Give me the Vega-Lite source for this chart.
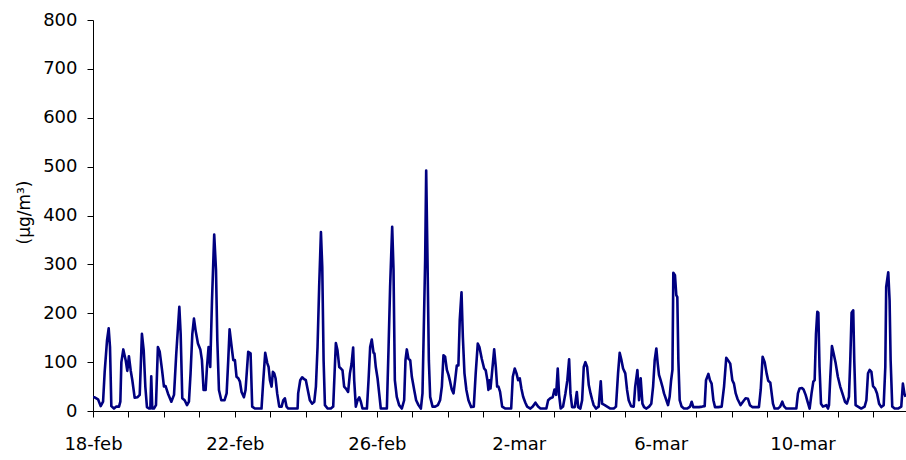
{
"$schema": "https://vega.github.io/schema/vega-lite/v6.json",
"width": 813, "height": 391,
"autosize": {"type": "none"},
"padding": {"left": 93, "top": 20, "right": 0, "bottom": 49},
"background": "white",
"config": {"view": {"stroke": null}, "font": "DejaVu Sans"},
"data": {"values": [
{"hour":0,"conc":28},{"hour":1.1,"conc":28},{"hour":3.4,"conc":24},{"hour":5.2,"conc":10},{"hour":6.8,"conc":19},{"hour":7.9,"conc":80},{"hour":9.5,"conc":145},{"hour":10.6,"conc":169},{"hour":11.5,"conc":131},{"hour":12.4,"conc":10},
{"hour":14.2,"conc":5},{"hour":15.8,"conc":9},{"hour":17.6,"conc":9},{"hour":18.5,"conc":19},{"hour":19.2,"conc":100},{"hour":20.5,"conc":126},{"hour":22.1,"conc":104},{"hour":23.2,"conc":82},{"hour":24.3,"conc":112},{"hour":25.5,"conc":83},
{"hour":26.6,"conc":63},{"hour":28.2,"conc":27},{"hour":30.0,"conc":28},{"hour":31.6,"conc":33},{"hour":33.1,"conc":158},{"hour":34.3,"conc":124},{"hour":35.4,"conc":50},{"hour":36.5,"conc":8},{"hour":37.9,"conc":5},{"hour":38.8,"conc":5},
{"hour":39.4,"conc":71},{"hour":40.1,"conc":5},{"hour":41.2,"conc":5},{"hour":42.6,"conc":12},{"hour":43.9,"conc":131},{"hour":45.1,"conc":122},{"hour":46.7,"conc":84},{"hour":48.0,"conc":50},{"hour":49.1,"conc":51},{"hour":50.7,"conc":36},
{"hour":53.0,"conc":19},{"hour":54.8,"conc":33},{"hour":56.3,"conc":116},{"hour":58.4,"conc":213},{"hour":59.3,"conc":158},{"hour":60.4,"conc":26},{"hour":62.0,"conc":22},{"hour":63.6,"conc":12},{"hour":64.9,"conc":19},{"hour":66.0,"conc":77},
{"hour":67.2,"conc":158},{"hour":68.3,"conc":189},{"hour":69.4,"conc":165},{"hour":71.0,"conc":138},{"hour":72.6,"conc":126},{"hour":73.7,"conc":104},{"hour":74.8,"conc":43},{"hour":76.2,"conc":43},{"hour":77.1,"conc":90},{"hour":78.2,"conc":131},
{"hour":79.3,"conc":90},{"hour":80.5,"conc":226},{"hour":82.0,"conc":361},{"hour":83.2,"conc":289},{"hour":84.1,"conc":145},{"hour":85.2,"conc":43},{"hour":86.8,"conc":22},{"hour":89.0,"conc":22},{"hour":90.4,"conc":36},{"hour":91.5,"conc":104},
{"hour":92.4,"conc":167},{"hour":93.8,"conc":131},{"hour":94.9,"conc":104},{"hour":96.0,"conc":104},{"hour":97.1,"conc":70},{"hour":98.3,"conc":67},{"hour":99.4,"conc":60},{"hour":100.5,"conc":39},{"hour":102.1,"conc":28},{"hour":103.2,"conc":43},
{"hour":105.0,"conc":121},{"hour":106.6,"conc":118},{"hour":107.7,"conc":9},{"hour":109.5,"conc":5},{"hour":111.8,"conc":5},{"hour":114.0,"conc":5},{"hour":115.2,"conc":63},{"hour":116.5,"conc":119},{"hour":117.9,"conc":98},{"hour":118.8,"conc":90},
{"hour":119.7,"conc":63},{"hour":120.8,"conc":50},{"hour":121.7,"conc":80},{"hour":122.6,"conc":77},{"hour":123.5,"conc":67},{"hour":124.6,"conc":36},{"hour":126.0,"conc":9},{"hour":127.6,"conc":9},{"hour":128.7,"conc":22},{"hour":129.8,"conc":26},
{"hour":130.9,"conc":9},{"hour":132.1,"conc":5},{"hour":134.3,"conc":5},{"hour":136.6,"conc":5},{"hour":138.4,"conc":5},{"hour":138.8,"conc":36},{"hour":140.2,"conc":63},{"hour":141.5,"conc":69},{"hour":142.9,"conc":65},{"hour":144.0,"conc":63},
{"hour":145.1,"conc":46},{"hour":146.7,"conc":22},{"hour":148.3,"conc":15},{"hour":149.7,"conc":19},{"hour":150.8,"conc":50},{"hour":151.9,"conc":131},{"hour":153.0,"conc":254},{"hour":154.2,"conc":366},{"hour":155.1,"conc":294},{"hour":156.0,"conc":104},
{"hour":156.9,"conc":12},{"hour":158.7,"conc":5},{"hour":160.9,"conc":5},{"hour":162.5,"conc":9},{"hour":163.6,"conc":90},{"hour":164.3,"conc":139},{"hour":165.4,"conc":124},{"hour":166.6,"conc":90},{"hour":167.7,"conc":87},{"hour":168.8,"conc":83},
{"hour":169.9,"conc":50},{"hour":171.1,"conc":46},{"hour":172.6,"conc":39},{"hour":173.8,"conc":77},{"hour":174.9,"conc":96},{"hour":176.0,"conc":130},{"hour":176.7,"conc":63},{"hour":177.8,"conc":9},{"hour":179.0,"conc":22},{"hour":180.1,"conc":28},
{"hour":181.2,"conc":19},{"hour":182.3,"conc":5},{"hour":185.3,"conc":5},{"hour":186.4,"conc":63},{"hour":187.5,"conc":131},{"hour":188.6,"conc":146},{"hour":189.8,"conc":119},{"hour":190.4,"conc":118},{"hour":191.3,"conc":90},{"hour":192.5,"conc":67},
{"hour":193.6,"conc":36},{"hour":194.7,"conc":5},{"hour":196.5,"conc":5},{"hour":198.8,"conc":5},{"hour":199.9,"conc":124},{"hour":201.0,"conc":254},{"hour":202.4,"conc":377},{"hour":203.3,"conc":289},{"hour":204.2,"conc":63},{"hour":205.5,"conc":29},
{"hour":207.1,"conc":12},{"hour":208.9,"conc":5},{"hour":210.5,"conc":22},{"hour":211.4,"conc":104},{"hour":212.3,"conc":126},{"hour":213.4,"conc":107},{"hour":214.6,"conc":104},{"hour":215.7,"conc":70},{"hour":217.3,"conc":43},{"hour":218.6,"conc":22},
{"hour":220.2,"conc":12},{"hour":221.8,"conc":5},{"hour":222.9,"conc":36},{"hour":223.8,"conc":172},{"hour":224.7,"conc":308},{"hour":225.4,"conc":492},{"hour":226.3,"conc":308},{"hour":227.2,"conc":104},{"hour":228.1,"conc":29},{"hour":229.7,"conc":9},
{"hour":231.5,"conc":9},{"hour":233.3,"conc":12},{"hour":234.8,"conc":22},{"hour":236.0,"conc":50},{"hour":237.1,"conc":114},{"hour":238.2,"conc":111},{"hour":239.4,"conc":84},{"hour":240.5,"conc":74},{"hour":241.6,"conc":60},{"hour":242.7,"conc":44},
{"hour":243.9,"conc":36},{"hour":245.0,"conc":63},{"hour":246.1,"conc":93},{"hour":247.2,"conc":93},{"hour":248.1,"conc":186},{"hour":249.3,"conc":243},{"hour":250.2,"conc":152},{"hour":251.3,"conc":77},{"hour":252.6,"conc":43},{"hour":254.0,"conc":22},
{"hour":255.8,"conc":8},{"hour":257.6,"conc":9},{"hour":258.9,"conc":77},{"hour":260.3,"conc":138},{"hour":261.4,"conc":131},{"hour":263.0,"conc":107},{"hour":264.6,"conc":87},{"hour":265.7,"conc":83},{"hour":266.8,"conc":63},{"hour":267.5,"conc":43},
{"hour":268.2,"conc":63},{"hour":268.9,"conc":46},{"hour":269.8,"conc":74},{"hour":271.4,"conc":126},{"hour":272.5,"conc":90},{"hour":273.4,"conc":50},{"hour":274.3,"conc":50},{"hour":275.4,"conc":39},{"hour":276.8,"conc":9},{"hour":279.0,"conc":5},
{"hour":281.3,"conc":5},{"hour":282.9,"conc":5},{"hour":284.0,"conc":70},{"hour":285.3,"conc":87},{"hour":286.5,"conc":77},{"hour":287.6,"conc":63},{"hour":288.7,"conc":67},{"hour":289.8,"conc":46},{"hour":291.0,"conc":29},{"hour":292.5,"conc":17},
{"hour":293.7,"conc":9},{"hour":295.9,"conc":5},{"hour":297.5,"conc":9},{"hour":299.3,"conc":17},{"hour":301.1,"conc":9},{"hour":302.7,"conc":5},{"hour":304.9,"conc":5},{"hour":306.7,"conc":5},{"hour":307.9,"conc":22},{"hour":309.4,"conc":26},
{"hour":311.0,"conc":28},{"hour":312.2,"conc":44},{"hour":313.3,"conc":33},{"hour":314.4,"conc":87},{"hour":315.3,"conc":33},{"hour":316.4,"conc":5},{"hour":318.0,"conc":9},{"hour":319.6,"conc":36},{"hour":320.9,"conc":63},{"hour":322.1,"conc":106},
{"hour":323.0,"conc":36},{"hour":324.1,"conc":8},{"hour":325.9,"conc":8},{"hour":327.3,"conc":39},{"hour":328.2,"conc":8},{"hour":329.7,"conc":5},{"hour":330.9,"conc":22},{"hour":332.0,"conc":90},{"hour":333.1,"conc":100},{"hour":334.3,"conc":90},
{"hour":335.4,"conc":53},{"hour":336.6,"conc":36},{"hour":337.6,"conc":24},{"hour":338.7,"conc":12},{"hour":340.3,"conc":5},{"hour":342.1,"conc":9},{"hour":343.5,"conc":61},{"hour":344.4,"conc":15},{"hour":346.2,"conc":12},{"hour":347.8,"conc":9},
{"hour":350.0,"conc":5},{"hour":352.3,"conc":5},{"hour":353.8,"conc":9},{"hour":355.2,"conc":77},{"hour":356.3,"conc":119},{"hour":357.5,"conc":104},{"hour":358.6,"conc":87},{"hour":360.1,"conc":77},{"hour":361.3,"conc":43},{"hour":362.4,"conc":22},
{"hour":364.0,"conc":10},{"hour":365.8,"conc":9},{"hour":366.8,"conc":50},{"hour":368.3,"conc":84},{"hour":369.4,"conc":22},{"hour":370.5,"conc":67},{"hour":371.7,"conc":15},{"hour":372.8,"conc":8},{"hour":374.4,"conc":5},{"hour":376.2,"conc":9},
{"hour":377.7,"conc":15},{"hour":378.9,"conc":50},{"hour":380.0,"conc":104},{"hour":381.1,"conc":128},{"hour":382.0,"conc":98},{"hour":382.9,"conc":74},{"hour":384.0,"conc":63},{"hour":385.2,"conc":50},{"hour":386.3,"conc":36},{"hour":387.9,"conc":22},
{"hour":389.0,"conc":12},{"hour":390.1,"conc":29},{"hour":391.1,"conc":63},{"hour":392.0,"conc":84},{"hour":392.6,"conc":283},{"hour":393.7,"conc":278},{"hour":394.6,"conc":237},{"hour":395.3,"conc":233},{"hour":396.0,"conc":104},{"hour":396.9,"conc":22},
{"hour":398.2,"conc":9},{"hour":399.8,"conc":5},{"hour":402.1,"conc":5},{"hour":403.9,"conc":9},{"hour":405.0,"conc":19},{"hour":406.1,"conc":8},{"hour":407.7,"conc":8},{"hour":409.9,"conc":8},{"hour":412.2,"conc":9},{"hour":413.8,"conc":10},
{"hour":414.7,"conc":63},{"hour":416.3,"conc":76},{"hour":417.4,"conc":63},{"hour":418.5,"conc":56},{"hour":419.7,"conc":22},{"hour":420.8,"conc":8},{"hour":423.0,"conc":8},{"hour":425.3,"conc":9},{"hour":426.9,"conc":50},{"hour":428.4,"conc":109},
{"hour":429.8,"conc":103},{"hour":431.1,"conc":97},{"hour":432.5,"conc":63},{"hour":433.6,"conc":56},{"hour":434.8,"conc":36},{"hour":436.1,"conc":24},{"hour":438.1,"conc":12},{"hour":439.7,"conc":19},{"hour":441.5,"conc":26},{"hour":443.1,"conc":25},
{"hour":444.4,"conc":12},{"hour":446.0,"conc":8},{"hour":448.3,"conc":8},{"hour":450.5,"conc":8},{"hour":451.7,"conc":43},{"hour":453.0,"conc":111},{"hour":454.4,"conc":100},{"hour":455.7,"conc":77},{"hour":456.8,"conc":62},{"hour":458.2,"conc":58},
{"hour":460.0,"conc":15},{"hour":461.1,"conc":5},{"hour":463.4,"conc":5},{"hour":464.9,"conc":9},{"hour":466.3,"conc":19},{"hour":467.4,"conc":10},{"hour":469.0,"conc":5},{"hour":472.4,"conc":5},{"hour":475.8,"conc":5},{"hour":476.9,"conc":36},
{"hour":478.0,"conc":46},{"hour":479.6,"conc":47},{"hour":480.7,"conc":44},{"hour":482.1,"conc":33},{"hour":483.4,"conc":19},{"hour":484.8,"conc":5},{"hour":486.1,"conc":36},{"hour":487.3,"conc":60},{"hour":488.2,"conc":63},{"hour":489.1,"conc":158},
{"hour":490.0,"conc":203},{"hour":490.7,"conc":201},{"hour":491.5,"conc":90},{"hour":492.5,"conc":15},{"hour":493.8,"conc":9},{"hour":494.9,"conc":10},{"hour":496.1,"conc":12},{"hour":497.2,"conc":5},{"hour":497.9,"conc":12},{"hour":498.8,"conc":70},
{"hour":499.9,"conc":133},{"hour":501.0,"conc":118},{"hour":502.4,"conc":98},{"hour":503.9,"conc":70},{"hour":505.5,"conc":50},{"hour":507.3,"conc":33},{"hour":508.7,"conc":19},{"hour":510.0,"conc":15},{"hour":511.4,"conc":29},{"hour":512.3,"conc":104},
{"hour":513.2,"conc":201},{"hour":514.3,"conc":206},{"hour":515.0,"conc":104},{"hour":515.9,"conc":12},{"hour":517.5,"conc":9},{"hour":519.7,"conc":5},{"hour":522.0,"conc":9},{"hour":523.2,"conc":22},{"hour":524.3,"conc":77},{"hour":525.4,"conc":84},
{"hour":526.6,"conc":80},{"hour":527.7,"conc":51},{"hour":529.1,"conc":46},{"hour":530.4,"conc":36},{"hour":531.8,"conc":15},{"hour":533.3,"conc":8},{"hour":534.9,"conc":12},{"hour":536.0,"conc":90},{"hour":536.6,"conc":254},{"hour":538.0,"conc":284},
{"hour":538.9,"conc":226},{"hour":539.6,"conc":104},{"hour":540.7,"conc":9},{"hour":542.3,"conc":5},{"hour":544.6,"conc":5},{"hour":546.8,"conc":9},{"hour":547.9,"conc":56},{"hour":548.9,"conc":36},{"hour":549.7,"conc":29}
]},
"mark": {"type": "line", "color": "#000080", "strokeWidth": 2.6, "clip": true, "strokeJoin": "round"},
"encoding": {
  "x": {"field": "hour", "type": "quantitative",
    "scale": {"domain": [0, 550], "nice": false, "zero": false},
    "axis": {"title": null, "grid": false,
      "values": [0,24,48,72,96,120,144,168,192,216,240,264,288,312,336,360,384,408,432,456,480,504,528],
      "labelExpr": "datum.value == 0 ? '18-feb' : datum.value == 96 ? '22-feb' : datum.value == 192 ? '26-feb' : datum.value == 288 ? '2-mar' : datum.value == 384 ? '6-mar' : datum.value == 480 ? '10-mar' : ''",
      "labelOverlap": false, "labelBound": false, "labelFlush": false,
      "tickSize": 6, "labelPadding": 18, "labelFontSize": 18, "labelFont": "DejaVu Sans",
      "labelColor": "#000000", "domainColor": "#000000", "tickColor": "#000000", "domainWidth": 1, "tickWidth": 1}},
  "y": {"field": "conc", "type": "quantitative",
    "scale": {"domain": [0, 800], "nice": false},
    "axis": {"title": "(µg/m³)", "grid": false,
      "values": [0,100,200,300,400,500,600,700,800],
      "tickSize": 6, "labelPadding": 10, "labelFontSize": 18, "labelFont": "DejaVu Sans",
      "labelColor": "#000000", "domainColor": "#000000", "tickColor": "#000000", "domainWidth": 1, "tickWidth": 1,
      "titleFont": "DejaVu Sans", "titleFontSize": 17, "titleFontWeight": "normal", "titleColor": "#000000",
      "titleAngle": -90, "titleBaseline": "middle", "titleAlign": "center", "titleX": -69, "titleY": 192}}
}
}
